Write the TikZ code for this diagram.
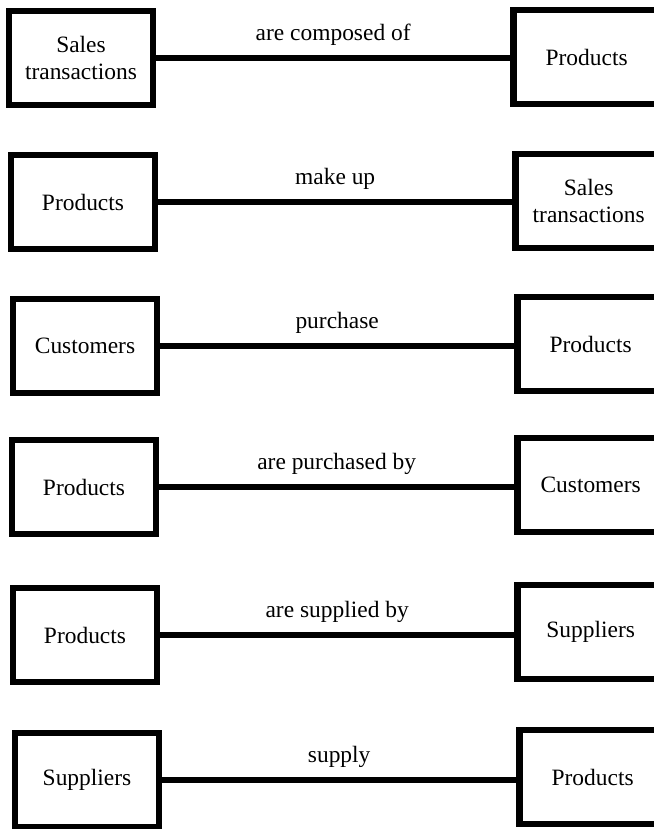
\documentclass[tikz,border=0pt]{standalone}
\usepackage{fontspec}
\setmainfont{Liberation Serif}
\usetikzlibrary{positioning}

\begin{document}
\begin{tikzpicture}[
        x=0.03cm, y=-0.03cm,
        entity/.style={rectangle, draw=black, line width=5.5pt, minimum width=4.32cm, minimum height=2.82cm, align=center, font=\fontsize{20}{23}\selectfont},
        target/.style={entity, minimum width=4.6cm},
        link/.style={draw=black, line width=4.5pt},
        verb/.style={above=5pt, font=\fontsize{20}{23}\selectfont}
    ]
        \clip (0,0) rectangle (654,829);

        % Left column
        \node[entity] (L1) at (81,58) {Sales\\transactions};
        \node[entity] (L2) at (83,202) {Products};
        \node[entity] (L3) at (85,346) {Customers};
        \node[entity] (L4) at (84,487) {Products};
        \node[entity] (L5) at (85,635) {Products};
        \node[entity] (L6) at (87,780) {Suppliers};

        % Right column
        \node[target] (R1) at (590,57) {\hspace*{-0.2cm}Products};
        \node[target] (R2) at (592,201) {\hspace*{-0.2cm}Sales\\\hspace*{-0.2cm}transactions};
        \node[target] (R3) at (594,344) {\hspace*{-0.2cm}Products};
        \node[target] (R4) at (594,485) {\hspace*{-0.2cm}Customers};
        \node[target] (R5) at (594,632) {\hspace*{-0.2cm}Suppliers};
        \node[target] (R6) at (596,777) {\hspace*{-0.2cm}Products};

        % Relationships
        \draw[link] (L1.east) -- node[verb] {are composed of} (L1.east -| R1.west);
        \draw[link] (L2.east) -- node[verb] {make up} (L2.east -| R2.west);
        \draw[link] (L3.east) -- node[verb] {purchase} (L3.east -| R3.west);
        \draw[link] (L4.east) -- node[verb] {are purchased by} (L4.east -| R4.west);
        \draw[link] (L5.east) -- node[verb] {are supplied by} (L5.east -| R5.west);
        \draw[link] (L6.east) -- node[verb] {supply} (L6.east -| R6.west);
    \end{tikzpicture}
\end{document}
